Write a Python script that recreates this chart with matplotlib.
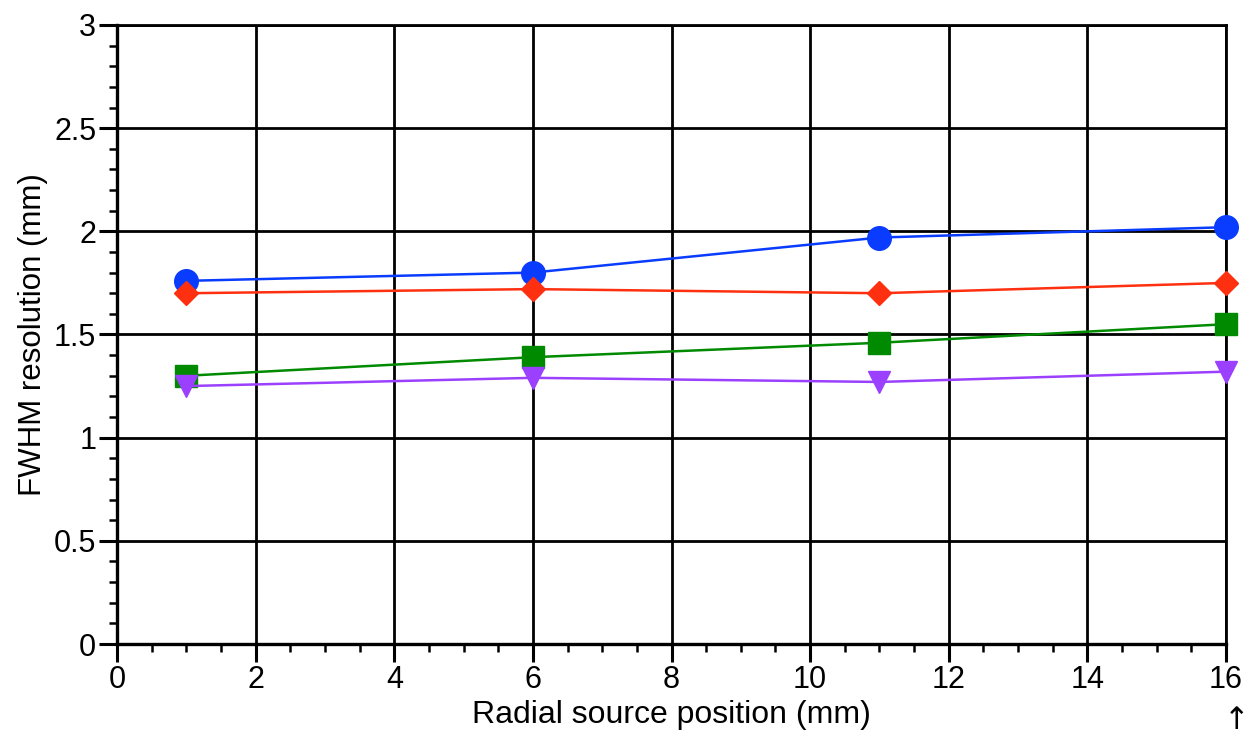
import matplotlib
matplotlib.use("Agg")
import matplotlib.pyplot as plt
from matplotlib.ticker import MultipleLocator

plt.rcParams['font.family'] = ['Liberation Sans', 'DejaVu Sans']

positions = [1, 6, 11, 16]
blue_vals = [1.76, 1.80, 1.97, 2.02]
red_vals = [1.70, 1.72, 1.70, 1.75]
green_vals = [1.30, 1.39, 1.46, 1.55]
purple_vals = [1.25, 1.29, 1.27, 1.32]

fig = plt.figure(figsize=(12.49, 7.35), dpi=100)
ax = fig.add_axes([0.0937, 0.1238, 0.8879, 0.8422])

ax.plot(positions, blue_vals, color='#0a3cff', lw=1.8, marker='o', ms=17, zorder=5, clip_on=False)
ax.plot(positions, red_vals, color='#ff3010', lw=1.8, marker='D', ms=12.5, zorder=5, clip_on=False)
ax.plot(positions, green_vals, color='#008a00', lw=1.8, marker='s', ms=16, zorder=5, clip_on=False)
ax.plot(positions, purple_vals, color='#9b40ff', lw=1.8, marker='v', ms=16, zorder=5, clip_on=False)

ax.set_xlim(0, 16)
ax.set_ylim(0, 3)
ax.xaxis.set_major_locator(MultipleLocator(2))
ax.xaxis.set_minor_locator(MultipleLocator(0.5))
ax.yaxis.set_major_locator(MultipleLocator(0.5))
ax.yaxis.set_minor_locator(MultipleLocator(0.1))
ax.set_yticks([0, 0.5, 1, 1.5, 2, 2.5, 3])
ax.set_yticklabels(['0', '0.5', '1', '1.5', '2', '2.5', '3'])

ax.grid(True, which='major', color='black', lw=2)
ax.set_axisbelow(True)
for s in ['top', 'right']:
    ax.spines[s].set_linewidth(2)
for s in ['left', 'bottom']:
    ax.spines[s].set_linewidth(2.4)

ax.tick_params(which='major', direction='out', length=13, width=2.2, labelsize=22, pad=2)
ax.tick_params(which='minor', direction='out', length=6, width=1.8)

ax.set_xlabel('Radial source position (mm)', fontsize=23, labelpad=4)
ax.set_ylabel('FWHM resolution (mm)', fontsize=22.5, labelpad=4)

fig.text(1.0, 0.0, '\u2191', fontsize=22, ha='right', va='bottom', family=['DejaVu Sans'])

fig.savefig('out.png', dpi=100)
